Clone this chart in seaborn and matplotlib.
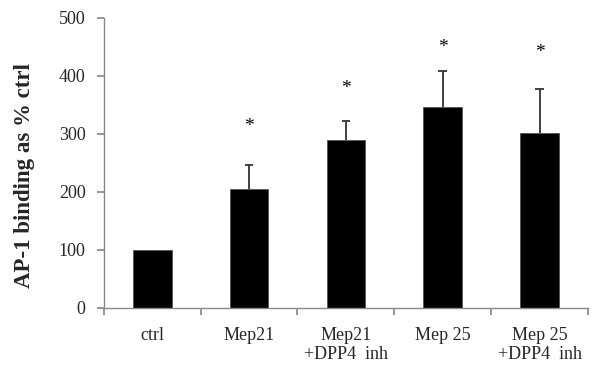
import matplotlib
matplotlib.use("Agg")
import matplotlib.pyplot as plt
import seaborn as sns
import numpy as np
import pandas as pd

categories = ["ctrl", "Mep21", "Mep21\n+DPP4  inh", "Mep 25", "Mep 25\n+DPP4  inh"]
values = [100, 205, 290, 347, 301]
errors = [0, 42, 33, 62, 77]
stars = ["", "*", "*", "*", "*"]
star_y = [0, 312, 378, 449, 441]
yticks = [0, 100, 200, 300, 400, 500]

sns.set_theme(style="white")
plt.rcParams["font.family"] = ["Liberation Serif", "DejaVu Serif"]

df = pd.DataFrame({"cat": categories, "val": values})
fig = plt.figure(figsize=(6, 3.75), dpi=100)
ax = fig.add_axes([0.173, 0.179, 0.807, 0.773])
sns.barplot(data=df, x="cat", y="val", color="black", width=0.4, ax=ax,
            edgecolor="#555555", linewidth=0.6, saturation=1, zorder=2)
x = np.arange(len(categories))
vals = np.array(values, dtype=float)
err = np.array(errors, dtype=float)
mask = err > 0
cap = 0.045
ax.vlines(x[mask], vals[mask], vals[mask] + err[mask], color="#333333", linewidth=1.3, zorder=3)
ax.hlines(vals[mask] + err[mask], x[mask] - cap, x[mask] + cap, color="#333333", linewidth=1.3, zorder=3)
for xi, s, sy in zip(x, stars, star_y):
    if s:
        ax.text(xi, sy, s, ha="center", va="center", fontsize=14, color="black")

ax.set_xlim(-0.5, len(categories) - 0.5)
ax.set_ylim(0, 500)
ax.set_yticks(yticks)
ax.set_yticklabels([str(t) for t in yticks], fontsize=13)
ax.set_xticks(np.arange(len(categories) + 1) - 0.5)
ax.set_xticklabels([])
ax.set_xticks(x, minor=True)
ax.set_xticklabels(categories, minor=True, fontsize=13, linespacing=1.15)
ax.tick_params(axis="x", which="minor", length=0, pad=14)
ax.tick_params(axis="x", which="major", direction="out", length=5, color="#888888", bottom=True)
ax.tick_params(axis="y", direction="out", length=5, color="#888888", left=True, pad=8)
ax.set_xlabel("")
ax.set_ylabel("AP-1 binding as % ctrl", fontsize=16.5, fontweight="bold")
ax.yaxis.set_label_coords(-0.142, 0.455)
for side in ["top", "right"]:
    ax.spines[side].set_visible(False)
for side in ["left", "bottom"]:
    ax.spines[side].set_color("#888888")
    ax.spines[side].set_linewidth(1)

fig.savefig("out.png", dpi=100)
